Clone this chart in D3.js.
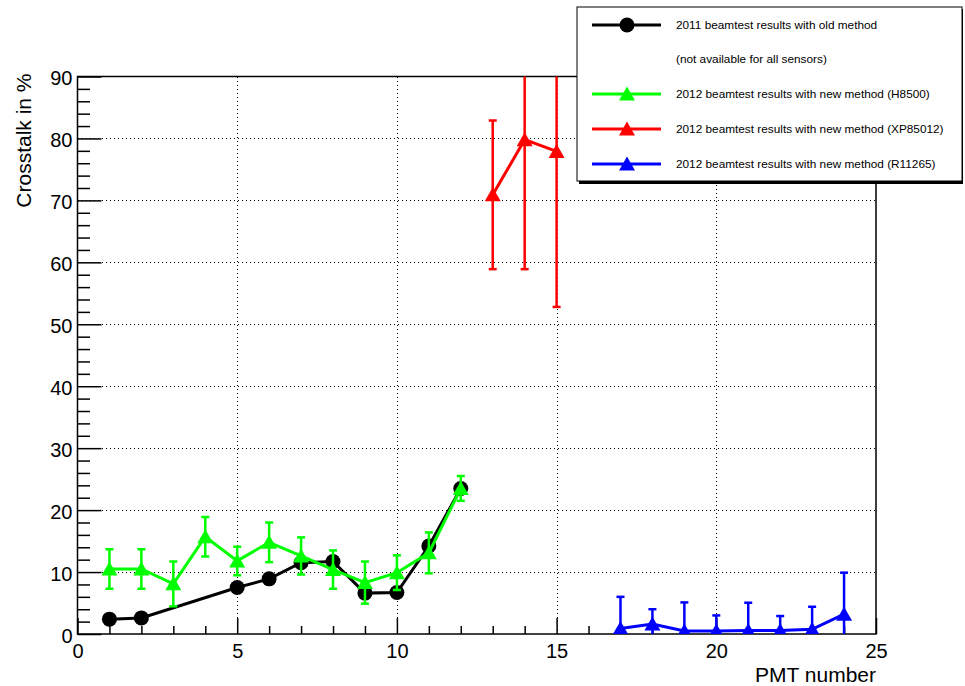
<!DOCTYPE html>
<html>
<head>
<meta charset="utf-8">
<script src="https://cdn.jsdelivr.net/npm/d3@7"></script>
<style>
  html, body { margin: 0; padding: 0; background: #fff; }
  svg { display: block; font-family: "Liberation Sans", Arial, Helvetica, sans-serif; }
</style>
</head>
<body>
<svg id="chart" width="965" height="686"></svg>
<script>
// 2011 beamtest, old method (PMT number, crosstalk %)
const oldPmt = [1, 2, 5, 6, 7, 8, 9, 10, 11, 12];
const oldVal = [2.4, 2.6, 7.5, 8.9, 11.5, 11.7, 6.6, 6.7, 14.2, 23.5];

// 2012 beamtest, new method, H8500
const h8500Pmt = [1, 2, 3, 4, 5, 6, 7, 8, 9, 10, 11, 12];
const h8500Val = [10.5, 10.5, 8.1, 15.7, 11.8, 14.8, 12.6, 10.4, 8.3, 9.9, 13.1, 23.5];
const h8500Err = [3.2, 3.2, 3.6, 3.2, 2.3, 3.2, 3.0, 3.1, 3.4, 2.8, 3.3, 2.0];

// 2012 beamtest, new method, XP85012
const xpPmt = [13, 14, 15];
const xpVal = [70.9, 79.8, 77.9];
const xpErr = [12.0, 20.9, 25.1];

// 2012 beamtest, new method, R11265
const rPmt = [17, 18, 19, 20, 21, 22, 23, 24];
const rVal = [0.9, 1.6, 0.5, 0.5, 0.55, 0.55, 0.75, 3.2];
const rErr = [5.1, 2.4, 4.6, 2.5, 4.5, 2.35, 3.65, 6.7];

const xTicks = [0, 5, 10, 15, 20, 25];
const yTicks = [0, 10, 20, 30, 40, 50, 60, 70, 80, 90];

const legendLabels = [
  "2011 beamtest results with old method",
  "(not available for all sensors)",
  "2012 beamtest results with new method (H8500)",
  "2012 beamtest results with new method (XP85012)",
  "2012 beamtest results with new method (R11265)"
];

const frame = { left: 77.5, right: 876, top: 76.5, bottom: 634 };
const x = d3.scaleLinear().domain([0, 25]).range([frame.left, frame.right]);
const y = d3.scaleLinear().domain([0, 90]).range([frame.bottom, frame.top]);

const svg = d3.select("#chart");

svg.append("defs").append("clipPath").attr("id", "frameClip")
  .append("rect")
  .attr("x", frame.left).attr("y", frame.top)
  .attr("width", frame.right - frame.left).attr("height", frame.bottom - frame.top);

// dotted grid at major ticks
const grid = svg.append("g").attr("stroke", "#000").attr("stroke-width", 1)
  .attr("stroke-dasharray", "1,3").attr("shape-rendering", "crispEdges");
grid.selectAll("line.gx").data(xTicks.slice(1, -1)).join("line")
  .attr("x1", d => Math.round(x(d)) + 0.5).attr("x2", d => Math.round(x(d)) + 0.5)
  .attr("y1", frame.top).attr("y2", frame.bottom);
grid.selectAll("line.gy").data(yTicks.slice(1, -1)).join("line")
  .attr("x1", frame.left).attr("x2", frame.right)
  .attr("y1", d => Math.round(y(d)) + 0.5).attr("y2", d => Math.round(y(d)) + 0.5);

// frame box
svg.append("rect")
  .attr("x", frame.left).attr("y", frame.top)
  .attr("width", frame.right - frame.left).attr("height", frame.bottom - frame.top)
  .attr("fill", "none").attr("stroke", "#000").attr("stroke-width", 1.5);

// x axis: inward ticks, major every 5, minor every 1
const xAxis = d3.axisBottom(x).tickValues(xTicks).tickSizeInner(-16).tickSizeOuter(0)
  .tickPadding(10).tickFormat(d3.format("d"));
const gx = svg.append("g").attr("transform", `translate(0,${frame.bottom})`).call(xAxis);
gx.select(".domain").remove();
gx.selectAll(".tick line").attr("stroke-width", 1.5);
gx.selectAll(".tick text").attr("font-size", 20).attr("fill", "#000")
  .attr("font-family", "Liberation Sans, Arial, sans-serif");
const xMinor = d3.axisBottom(x).tickValues(d3.range(0, 26, 1).filter(d => d % 5 !== 0))
  .tickSizeInner(-8).tickSizeOuter(0).tickFormat("");
const gxm = svg.append("g").attr("transform", `translate(0,${frame.bottom})`).call(xMinor);
gxm.select(".domain").remove();
gxm.selectAll(".tick line").attr("stroke-width", 1.5);

// y axis: inward ticks, major every 10, minor every 2
const yAxis = d3.axisLeft(y).tickValues(yTicks).tickSizeInner(-24).tickSizeOuter(0)
  .tickPadding(6).tickFormat(d3.format("d"));
const gy = svg.append("g").attr("transform", `translate(${frame.left},0)`).call(yAxis);
gy.select(".domain").remove();
gy.selectAll(".tick line").attr("stroke-width", 1.5);
gy.selectAll(".tick text").attr("font-size", 20).attr("fill", "#000")
  .attr("x", -5).attr("dy", "0.4em")
  .attr("font-family", "Liberation Sans, Arial, sans-serif");
const yMinor = d3.axisLeft(y).tickValues(d3.range(0, 91, 2).filter(d => d % 10 !== 0))
  .tickSizeInner(-12.5).tickSizeOuter(0).tickFormat("");
const gym = svg.append("g").attr("transform", `translate(${frame.left},0)`).call(yMinor);
gym.select(".domain").remove();
gym.selectAll(".tick line").attr("stroke-width", 1.5);

// axis titles
svg.append("text").attr("x", frame.right).attr("y", 682)
  .attr("text-anchor", "end").attr("font-size", 21).text("PMT number");
svg.append("text")
  .attr("transform", `translate(31,${frame.top - 3}) rotate(-90)`)
  .attr("text-anchor", "end").attr("font-size", 21).text("Crosstalk in %");

const plot = svg.append("g").attr("clip-path", "url(#frameClip)");
const tri = "M0,-7.5L8,6.5L-8,6.5Z";

function series(pmts, vals, errs, color, marker) {
  const pts = pmts.map((p, i) => ({ p, v: vals[i], e: errs ? errs[i] : 0 }));
  const g = plot.append("g");
  if (errs) {
    const eb = g.append("g").attr("stroke", color).attr("stroke-width", 2.5);
    eb.selectAll("line.v").data(pts).join("line")
      .attr("x1", d => x(d.p)).attr("x2", d => x(d.p))
      .attr("y1", d => y(d.v - d.e)).attr("y2", d => y(d.v + d.e));
    eb.selectAll("line.t").data(pts).join("line")
      .attr("x1", d => x(d.p) - 4).attr("x2", d => x(d.p) + 4)
      .attr("y1", d => y(d.v + d.e)).attr("y2", d => y(d.v + d.e));
    eb.selectAll("line.b").data(pts).join("line")
      .attr("x1", d => x(d.p) - 4).attr("x2", d => x(d.p) + 4)
      .attr("y1", d => y(d.v - d.e)).attr("y2", d => y(d.v - d.e));
  }
  g.append("path").datum(pts)
    .attr("fill", "none").attr("stroke", color).attr("stroke-width", 3)
    .attr("d", d3.line().x(d => x(d.p)).y(d => y(d.v)));
  if (marker === "circle") {
    g.selectAll("circle").data(pts).join("circle")
      .attr("cx", d => x(d.p)).attr("cy", d => y(d.v)).attr("r", 7.5).attr("fill", color);
  } else {
    g.selectAll("path.m").data(pts).join("path")
      .attr("transform", d => `translate(${x(d.p)},${y(d.v)})`)
      .attr("d", tri).attr("fill", color);
  }
}

series(oldPmt, oldVal, null, "#000", "circle");
series(h8500Pmt, h8500Val, h8500Err, "#00ff00", "tri");
series(xpPmt, xpVal, xpErr, "#ff0000", "tri");
series(rPmt, rVal, rErr, "#0000ff", "tri");

// legend
const lg = svg.append("g");
lg.append("rect").attr("x", 579).attr("y", 9).attr("width", 384).attr("height", 175).attr("fill", "#000");
lg.append("rect").attr("x", 577).attr("y", 7).attr("width", 385).attr("height", 174)
  .attr("fill", "#fff").attr("stroke", "#000").attr("stroke-width", 1);
const rowY = [25, 59, 94, 129, 164];
const rowColor = ["#000", null, "#00ff00", "#ff0000", "#0000ff"];
legendLabels.forEach((t, i) => {
  const c = rowColor[i];
  if (c) {
    lg.append("line").attr("x1", 592).attr("x2", 661).attr("y1", rowY[i]).attr("y2", rowY[i])
      .attr("stroke", c).attr("stroke-width", 3);
    if (i === 0) {
      lg.append("circle").attr("cx", 627).attr("cy", rowY[i]).attr("r", 7.5).attr("fill", c);
    } else {
      lg.append("path").attr("transform", `translate(627,${rowY[i]})`).attr("d", tri).attr("fill", c);
    }
  }
  lg.append("text").attr("x", 676).attr("y", rowY[i] + 4).attr("font-size", 11.8).text(t);
});
</script>
</body>
</html>
